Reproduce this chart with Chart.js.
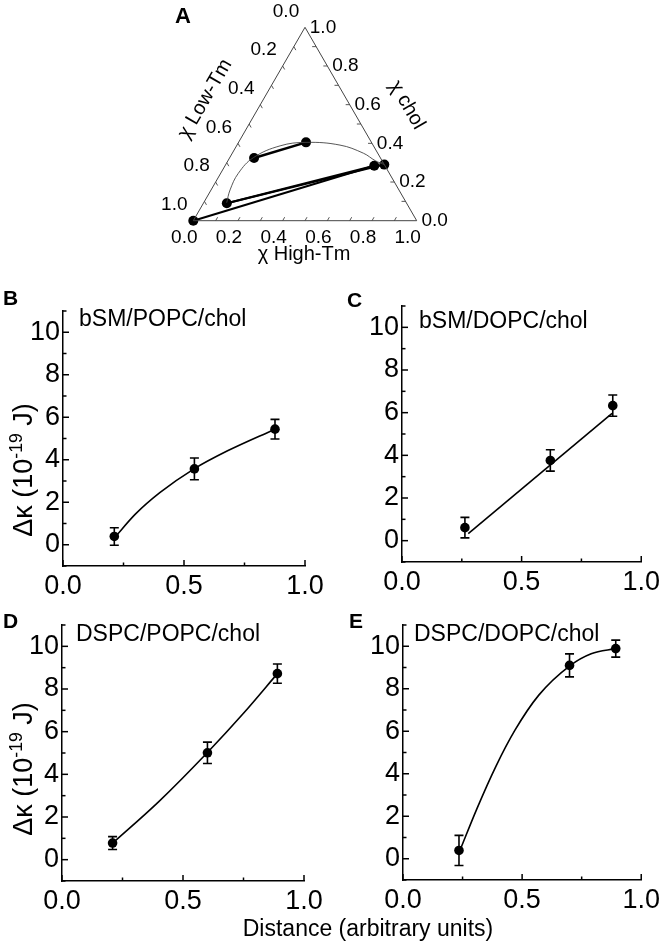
<!DOCTYPE html>
<html>
<head>
<meta charset="utf-8">
<script src="https://cdn.jsdelivr.net/npm/chart.js@4.4.0/dist/chart.umd.min.js"></script>
<style>
  html, body { margin:0; padding:0; background:#fff; }
  body { width:664px; height:944px; position:relative; overflow:hidden;
         font-family:"Liberation Sans", Arial, Helvetica, sans-serif; color:#000; }
  canvas { position:absolute; }
  .txt { position:absolute; line-height:1; white-space:nowrap; z-index:2; }
  .pl { font-weight:bold; font-size:21px; }
  .st { font-size:23px; }
  .xt { font-size:23px; transform:translateX(-50%); }
  .yt { font-size:27px; transform:translate(-50%,-50%) rotate(-90deg); }
  .yt .sup { font-size:0.65em; position:relative; top:-0.55em; }
</style>
</head>
<body>
<canvas id="cA" width="300" height="270" style="left:150px;top:0px"></canvas>
<canvas id="cB" width="332" height="330" style="left:0px;top:280px"></canvas>
<canvas id="cC" width="332" height="330" style="left:332px;top:280px"></canvas>
<canvas id="cD" width="332" height="344" style="left:0px;top:600px"></canvas>
<canvas id="cE" width="332" height="344" style="left:332px;top:600px"></canvas>

<div class="txt pl" style="left:175px;top:5px;font-size:22px">A</div>
<div class="txt pl" style="left:3px;top:287px">B</div>
<div class="txt pl" style="left:347px;top:289px">C</div>
<div class="txt pl" style="left:3px;top:610px">D</div>
<div class="txt pl" style="left:349px;top:610px">E</div>
<div class="txt st" id="nB" style="left:79px;top:307px"></div>
<div class="txt st" id="nC" style="left:419px;top:309px"></div>
<div class="txt st" id="nD" style="left:76px;top:622px"></div>
<div class="txt st" id="nE" style="left:414px;top:622px"></div>
<div class="txt xt" id="xTitle" style="left:368px;top:917px"></div>
<div class="txt yt" style="left:23px;top:470px">Δκ (10<span class="sup">-19</span> J)</div>
<div class="txt yt" style="left:23px;top:769px">Δκ (10<span class="sup">-19</span> J)</div>

<script>
// ===================== DATA =====================
// Panel A: ternary compositions (fractions of High-Tm lipid and cholesterol)
const ternaryTickValues = [0.0, 0.2, 0.4, 0.6, 0.8, 1.0];
const ternaryMinorValues = [0.1, 0.2, 0.3, 0.4, 0.5, 0.6, 0.7, 0.8, 0.9];
const ternaryAxisTitles = ["χ High-Tm", "χ chol", "χ Low-Tm"];
const compHighTm = [0.000, 0.105, 0.110, 0.302, 0.668, 0.710];
const compChol   = [0.000, 0.090, 0.324, 0.405, 0.284, 0.290];
const tieLineFrom = [2, 1, 1, 0];
const tieLineTo   = [3, 4, 5, 4];
const boundaryHighTm = [0.103, 0.085, 0.079, 0.106, 0.195, 0.302, 0.461, 0.587, 0.660, 0.710];
const boundaryChol   = [0.093, 0.159, 0.245, 0.326, 0.387, 0.405, 0.391, 0.349, 0.310, 0.290];

// Panels B-E
const systemNames = ["bSM/POPC/chol", "bSM/DOPC/chol", "DSPC/POPC/chol", "DSPC/DOPC/chol"];
const xAxisTitle = "Distance (arbitrary units)";
const xTickValues = [0.0, 0.5, 1.0];
const xMinorValues = [0.25, 0.75];
const yTickValues = [0, 2, 4, 6, 8, 10];
const yMinorValues = [-1, 1, 3, 5, 7, 9, 11];

const distB  = [0.212, 0.543, 0.876];
const kappaB = [0.39, 3.57, 5.44];
const errB   = [0.41, 0.51, 0.46];
const fitDistB  = [0.215, 0.30, 0.40, 0.54, 0.68, 0.876];
const fitKappaB = [0.36, 1.45, 2.45, 3.56, 4.42, 5.44];

const distC  = [0.263, 0.620, 0.881];
const kappaC = [0.61, 3.76, 6.33];
const errC   = [0.48, 0.50, 0.50];
const fitDistC  = [0.277, 0.878];
const fitKappaC = [0.33, 5.97];

const distD  = [0.209, 0.601, 0.890];
const kappaD = [0.78, 5.01, 8.72];
const errD   = [0.30, 0.50, 0.45];
const fitDistD  = [0.21, 0.40, 0.60, 0.75, 0.89];
const fitKappaD = [0.78, 2.72, 5.01, 6.86, 8.72];

const distE  = [0.235, 0.699, 0.893];
const kappaE = [0.39, 9.10, 9.89];
const errE   = [0.71, 0.54, 0.40];
const fitDistE  = [0.24, 0.31, 0.39, 0.47, 0.57, 0.70, 0.79, 0.893];
const fitKappaE = [0.42, 2.35, 4.35, 6.05, 7.70, 9.08, 9.65, 9.89];

// ===================== SETUP =====================
const FONT = '"Liberation Sans", Arial, Helvetica, sans-serif';
Chart.defaults.font.family = FONT;
Chart.defaults.color = '#000';
const SQ3 = Math.sqrt(3) / 2;

["nB","nC","nD","nE"].forEach((id, i) => document.getElementById(id).textContent = systemNames[i]);
document.getElementById('xTitle').textContent = xAxisTitle;

// ternary -> cartesian (bottom-left = Low-Tm, bottom-right = High-Tm, top = chol)
function tern(h, c) { return { x: h + c / 2, y: c * SQ3 }; }

const ternaryPlugin = {
  id: 'ternaryAxes',
  afterDatasetsDraw(chart) {
    const xs = chart.scales.x, ys = chart.scales.y, ctx = chart.ctx;
    const P = (h, c) => { const p = tern(h, c); return [xs.getPixelForValue(p.x), ys.getPixelForValue(p.y)]; };
    const seg = (x1, y1, x2, y2) => { ctx.beginPath(); ctx.moveTo(x1, y1); ctx.lineTo(x2, y2); ctx.stroke(); };
    ctx.save();
    ctx.strokeStyle = '#444'; ctx.lineWidth = 0.9;
    ternaryMinorValues.forEach(v => {
      let [x, y] = P(v, 0); seg(x, y, x + 2, y - 3.5);
      [x, y] = P(1 - v, v); seg(x, y, x - 4, y);
      [x, y] = P(0, 1 - v); seg(x, y, x + 2, y + 3.5);
    });
    ctx.fillStyle = '#000';
    ctx.font = '19px ' + FONT;
    ctx.textAlign = 'center'; ctx.textBaseline = 'middle';
    ternaryTickValues.forEach(v => {
      const t = v.toFixed(1);
      let [x, y] = P(v, 0); ctx.fillText(t, x - 9, y + 17);
      [x, y] = P(1 - v, v); ctx.fillText(t, x + 18, y);
      [x, y] = P(0, 1 - v); ctx.fillText(t, x - 19, y - 16);
    });
    ctx.font = '20px ' + FONT;
    let [bx, by] = P(0.5, 0);
    ctx.fillText(ternaryAxisTitles[0], bx - 1, by + 34);
    let [rx, ry] = P(0.5, 0.5);
    ctx.save(); ctx.translate(rx + 46, ry - 19); ctx.rotate(Math.PI / 3);
    ctx.fillText(ternaryAxisTitles[1], 0, 0); ctx.restore();
    let [lx, ly] = P(0, 0.5);
    ctx.save(); ctx.translate(lx - 44, ly - 25); ctx.rotate(-Math.PI / 3);
    ctx.fillText(ternaryAxisTitles[2], 0, 0); ctx.restore();
    ctx.restore();
  }
};

const triangle = [tern(0,0), tern(1,0), tern(0,1), tern(0,0)];
const boundary = boundaryHighTm.map((h, i) => tern(h, boundaryChol[i]));
const compPts = compHighTm.map((h, i) => tern(h, compChol[i]));
const tieDatasets = tieLineFrom.map((a, i) => ({
  data: [compPts[a], compPts[tieLineTo[i]]],
  showLine: true, borderColor: '#000', borderWidth: i === 0 ? 2.6 : 2.0,
  pointRadius: 0, clip: false
}));

new Chart(document.getElementById('cA'), {
  type: 'scatter',
  data: { datasets: [
    { data: triangle, showLine: true, borderColor: '#444', borderWidth: 1, pointRadius: 0, clip: false },
    { data: boundary, showLine: true, borderColor: '#444', borderWidth: 0.9, pointRadius: 0, tension: 0.4, clip: false },
    ...tieDatasets,
    { data: compPts, pointRadius: 5, pointBackgroundColor: '#000', pointBorderColor: '#000', pointBorderWidth: 0, clip: false }
  ]},
  options: {
    responsive: false, animation: false, devicePixelRatio: 1,
    layout: { padding: { left: 43.3, right: 33.3, top: 27.3, bottom: 49.3 } },
    scales: {
      x: { type: 'linear', min: 0, max: 1, display: false },
      y: { type: 'linear', min: 0, max: SQ3, display: false }
    },
    plugins: { legend: { display: false }, tooltip: { enabled: false } }
  },
  plugins: [ternaryPlugin]
});

// ---- plugins for B-E
const errorBarPlugin = {
  id: 'errorBars',
  afterDatasetsDraw(chart) {
    const ctx = chart.ctx, xs = chart.scales.x, ys = chart.scales.y;
    chart.data.datasets.forEach(ds => {
      if (!ds.errorBars) return;
      ctx.save(); ctx.strokeStyle = '#000'; ctx.lineWidth = 1.6;
      ds.data.forEach((p, j) => {
        const e = ds.errorBars[j];
        const x = xs.getPixelForValue(p.x);
        const yt = ys.getPixelForValue(p.y + e), yb = ys.getPixelForValue(p.y - e);
        ctx.beginPath();
        ctx.moveTo(x, yt); ctx.lineTo(x, yb);
        ctx.moveTo(x - 4.5, yt); ctx.lineTo(x + 4.5, yt);
        ctx.moveTo(x - 4.5, yb); ctx.lineTo(x + 4.5, yb);
        ctx.stroke();
      });
      ctx.restore();
    });
  }
};
const innerTickPlugin = {
  id: 'innerTicks',
  afterDraw(chart) {
    const ctx = chart.ctx, xs = chart.scales.x, ys = chart.scales.y, a = chart.chartArea;
    ctx.save(); ctx.strokeStyle = '#000'; ctx.lineWidth = 1.5;
    const seg = (x1, y1, x2, y2) => { ctx.beginPath(); ctx.moveTo(x1, y1); ctx.lineTo(x2, y2); ctx.stroke(); };
    xTickValues.forEach(v => { const x = xs.getPixelForValue(v); seg(x, a.bottom, x, a.bottom - 6); });
    xMinorValues.forEach(v => { const x = xs.getPixelForValue(v); seg(x, a.bottom, x, a.bottom - 3.5); });
    yTickValues.forEach(v => { const y = ys.getPixelForValue(v); seg(a.left, y, a.left + 6, y); });
    yMinorValues.forEach(v => { const y = ys.getPixelForValue(v); seg(a.left, y, a.left + 3.5, y); });
    ctx.restore();
  }
};

function makePanel(id, dist, kappa, err, fitX, fitY, box) {
  new Chart(document.getElementById(id), {
    type: 'scatter',
    data: { datasets: [
      { data: fitX.map((x, i) => ({ x, y: fitY[i] })), showLine: true, borderColor: '#000',
        borderWidth: 1.6, pointRadius: 0, cubicInterpolationMode: 'monotone' },
      { data: dist.map((x, i) => ({ x, y: kappa[i] })), errorBars: err, pointRadius: 4.8,
        pointBackgroundColor: '#000', pointBorderColor: '#000', pointBorderWidth: 0 }
    ]},
    options: {
      responsive: false, animation: false, devicePixelRatio: 1,
      layout: { padding: { left: 0, right: box.padRight, top: box.padTop, bottom: 0 } },
      scales: {
        x: { type: 'linear', min: 0, max: 1,
             afterBuildTicks: s => { s.ticks = xTickValues.map(v => ({ value: v })); },
             afterFit: s => { s.height = box.xHeight; },
             ticks: { callback: v => Number(v).toFixed(1), font: { size: 27 }, color: '#000',
                      padding: 4, maxRotation: 0, autoSkip: false },
             grid: { display: false, drawTicks: false },
             border: { display: true, color: '#000', width: 1.5 } },
        y: { type: 'linear', min: -1, max: 11,
             afterBuildTicks: s => { s.ticks = yTickValues.map(v => ({ value: v })); },
             afterFit: s => { s.width = box.yWidth; },
             ticks: { callback: v => String(v), font: { size: 27 }, color: '#000', padding: 3, autoSkip: false },
             grid: { display: false, drawTicks: false },
             border: { display: true, color: '#000', width: 1.5 } }
      },
      plugins: { legend: { display: false }, tooltip: { enabled: false } }
    },
    plugins: [errorBarPlugin, innerTickPlugin]
  });
}

makePanel('cB', distB, kappaB, errB, fitDistB, fitKappaB, { yWidth: 63, xHeight: 44, padTop: 31, padRight: 27 });
makePanel('cC', distC, kappaC, errC, fitDistC, fitKappaC, { yWidth: 70, xHeight: 48, padTop: 26, padRight: 20 });
makePanel('cD', distD, kappaD, errD, fitDistD, fitKappaD, { yWidth: 62, xHeight: 63, padTop: 25, padRight: 28 });
makePanel('cE', distE, kappaE, errE, fitDistE, fitKappaE, { yWidth: 71, xHeight: 64, padTop: 25, padRight: 21 });
</script>
</body>
</html>
